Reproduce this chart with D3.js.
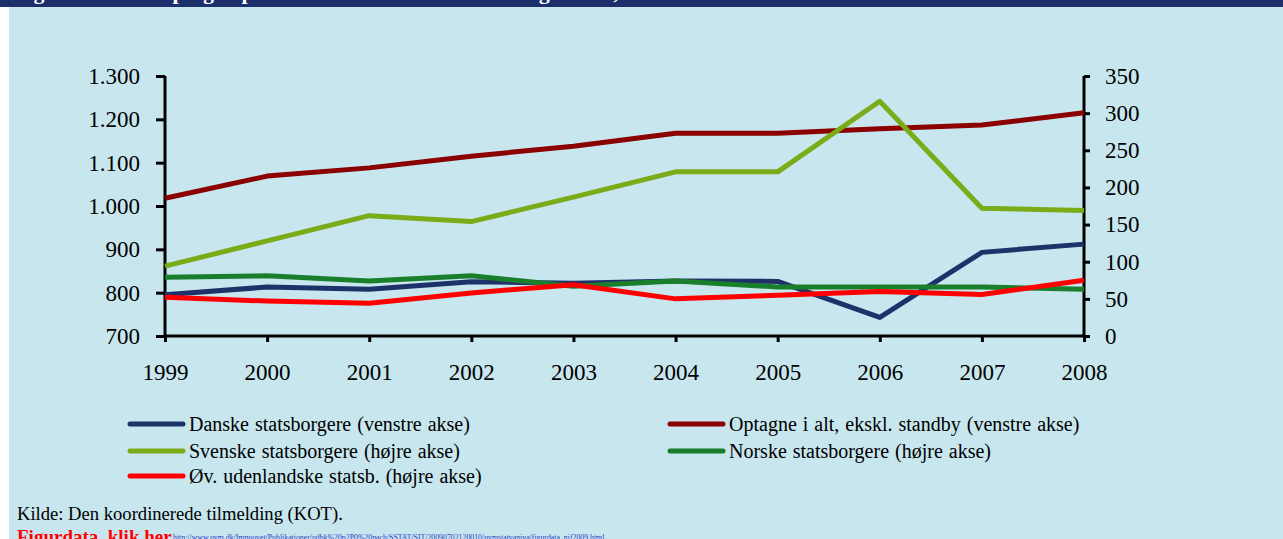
<!DOCTYPE html>
<html><head><meta charset="utf-8">
<script src="https://cdn.jsdelivr.net/npm/d3@7"></script>
<style>html,body{margin:0;padding:0;background:#fff;}svg{display:block;}</style>
</head><body>
<script>
const years = [1999,2000,2001,2002,2003,2004,2005,2006,2007,2008];
const danske   = [795, 813, 808, 825, 822, 827, 826, 743, 893, 912];
const optagne  = [1018,1069,1088,1115,1138,1168,1168,1178,1187,1215];
const svenske  = [94, 128, 162, 154, 187, 221, 221, 316, 172, 169];
const norske   = [79, 81, 74, 81, 67, 74, 66, 66, 66, 63];
const oevrige  = [52, 47, 44, 58, 69, 50, 55, 60, 56, 75];
const leftTicks = [700,800,900,1000,1100,1200,1300];
const rightTicks = [0,50,100,150,200,250,300,350];
const seriesNames = ["Danske statsborgere (venstre akse)","Optagne i alt, ekskl. standby (venstre akse)","Svenske statsborgere (højre akse)","Norske statsborgere (højre akse)","Øv. udenlandske statsb. (højre akse)"];

const FF="'Liberation Serif'";
const W=1283,H=539;
const svg=d3.select("body").append("svg").attr("width",W).attr("height",H);
svg.append("rect").attr("x",9).attr("y",0).attr("width",W-9).attr("height",H).attr("fill","#c7e6ee");
svg.append("rect").attr("x",0).attr("y",0).attr("width",W).attr("height",7).attr("fill","#1c2f6a");
svg.append("text").attr("x",14).attr("y",-1).attr("fill","#fff").style("font-family",FF).style("font-weight","bold").style("font-size","22px")
  .text("Figur 4.4 Antal optagne på uddannelserne efter statsborgerskab, 1999-2008");

const x=d3.scalePoint().domain(years).range([165,1084]);
const yL=d3.scaleLinear().domain([700,1300]).range([336,76]);
const yR=d3.scaleLinear().domain([0,350]).range([336,76]);

// axes
const gL=svg.append("g").attr("transform","translate(165,0)").call(d3.axisLeft(yL).tickValues(leftTicks).tickSize(9).tickPadding(16).tickFormat(d=>d3.format(",")(d).replace(",",".")));
const gR=svg.append("g").attr("transform","translate(1084,0)").call(d3.axisRight(yR).tickValues(rightTicks).tickSize(6).tickPadding(15));
const gX=svg.append("g").attr("transform","translate(0,336)").call(d3.axisBottom(x).tickSize(6).tickPadding(22));
[gL,gR,gX].forEach(g=>{
  g.attr("font-family",FF).attr("font-size",23);
  g.selectAll("path").attr("stroke","#000").attr("stroke-width",3);
  g.selectAll("line").attr("stroke","#000").attr("stroke-width",3);
  g.selectAll("text").style("font-family",FF).style("font-size","23px").attr("fill","#000");
});
gX.select("path").attr("d","M165,0H1084");
gL.select("path").attr("d","M0,76V336");
gR.select("path").attr("d","M0,76V336");

const series=[
 {name:seriesNames[0],data:danske,y:yL,color:"#1f3169"},
 {name:seriesNames[1],data:optagne,y:yL,color:"#8b0000"},
 {name:seriesNames[2],data:svenske,y:yR,color:"#7aab18"},
 {name:seriesNames[3],data:norske,y:yR,color:"#1a7f2b"},
 {name:seriesNames[4],data:oevrige,y:yR,color:"#ff0000"}
];
const drawOrder=[1,2,0,3,4];
drawOrder.forEach(i=>{
  const s=series[i];
  svg.append("path").datum(s.data)
    .attr("d",d3.line().x((d,j)=>x(years[j])).y(d=>s.y(d)))
    .attr("fill","none").attr("stroke",s.color).attr("stroke-width",5).attr("stroke-linejoin","round");
});

// legend
const legPos=[[130,424],[670,424],[130,451],[670,451],[130,476]];
series.forEach((s,i)=>{
  const [lx,ly]=legPos[i];
  svg.append("line").attr("x1",lx).attr("x2",lx+53).attr("y1",ly).attr("y2",ly).attr("stroke",s.color).attr("stroke-width",5).attr("stroke-linecap","round");
  svg.append("text").attr("x",lx+59).attr("y",ly+7).style("font-family",FF).style("font-size","20px").style("word-spacing","1px").attr("fill","#000").text(s.name);
});

svg.append("text").attr("x",17).attr("y",520).style("font-family",FF).style("font-size","18.6px").attr("fill","#000").text("Kilde: Den koordinerede tilmelding (KOT).");
svg.append("text").attr("x",17).attr("y",543).style("font-family",FF).style("font-size","19px").style("font-weight","bold").attr("fill","#ff0000").text("Figurdata, klik her");
svg.append("text").attr("x",173).attr("y",540).style("font-family",FF).style("font-size","7.8px").attr("fill","#1f3cc8").attr("text-decoration","underline").text("http://www.uvm.dk/Imnuovet/Publikationer/udbk%20p2P0%20nach/SSTAT/SIT/20090702120010/uvmstatvaniva/figurdata_nif2009.html");
</script>
</body></html>
